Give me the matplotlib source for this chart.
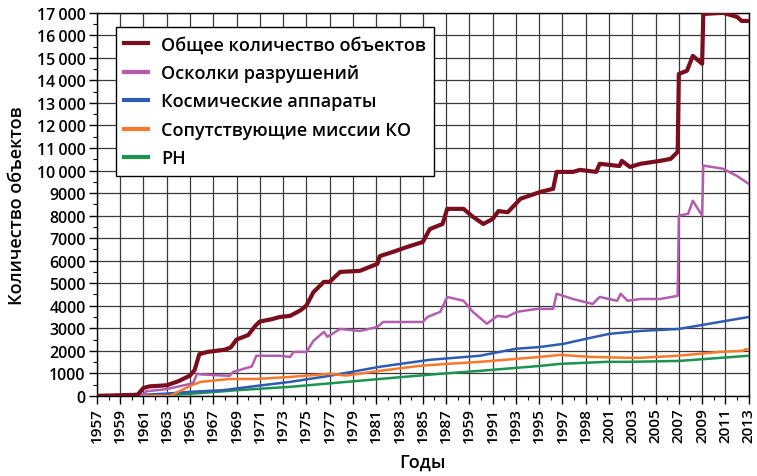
import matplotlib
matplotlib.use("Agg")
import matplotlib.pyplot as plt
from matplotlib.ticker import MultipleLocator

# ---------------- data ----------------
total_years = [1957, 1960.5, 1961, 1961.5, 1963, 1964, 1965, 1965.4, 1965.8, 1966.5, 1968, 1968.5,
               1969, 1970, 1970.6, 1971, 1972, 1972.7, 1973.6, 1974.5, 1975, 1975.6, 1976.5, 1977,
               1977.9, 1979.6, 1981.1, 1981.3, 1982.5, 1983.6, 1985, 1985.6, 1986.7, 1987.1, 1988.5,
               1989.3, 1990.2, 1991, 1991.5, 1992.3, 1993.4, 1995.1, 1996.2, 1996.5, 1997.9, 1998.5,
               1999.9, 2000.2, 2001.9, 2002.1, 2002.8, 2003.7, 2005.4, 2006.3, 2006.9, 2007.0, 2007.7,
               2008.2, 2009.0, 2009.1, 2010.8, 2012, 2012.4, 2013]
total_vals = [0, 50, 350, 420, 470, 650, 900, 1150, 1850, 1950, 2050, 2150,
              2500, 2700, 3100, 3300, 3400, 3500, 3550, 3800, 4010, 4600, 5060, 5060,
              5500, 5550, 5860, 6200, 6400, 6600, 6830, 7400, 7630, 8300, 8300,
              7950, 7630, 7850, 8200, 8150, 8750, 9050, 9190, 9940, 9940, 10030,
              9940, 10300, 10200, 10430, 10160, 10300, 10430, 10520, 10830, 14290, 14430,
              15090, 14740, 16950, 17000, 16820, 16640, 16640]

debris_years = [1957, 1961, 1961.2, 1963, 1965, 1965.3, 1965.6, 1966, 1968.4, 1968.7, 1969.6, 1970.3,
                1970.7, 1972.7, 1973.6, 1973.9, 1975, 1975.6, 1976.5, 1976.8, 1977.9, 1979.6, 1981.1,
                1981.6, 1985, 1985.4, 1986.5, 1987.1, 1988.5, 1989.3, 1990.5, 1991.4, 1992.2, 1993.1,
                1994.8, 1996.2, 1996.5, 1997.9, 1999.6, 2000.2, 2001.7, 2002, 2002.6, 2003.7, 2005.4,
                2006.9, 2007, 2007.8, 2008.2, 2009, 2009.1, 2010.8, 2012, 2013]
debris_vals = [0, 0, 200, 300, 530, 600, 980, 950, 890, 1060, 1200, 1300,
               1780, 1780, 1730, 1950, 1950, 2440, 2840, 2620, 2970, 2880, 3060,
               3280, 3280, 3500, 3730, 4390, 4220, 3730, 3200, 3550, 3500, 3730,
               3860, 3860, 4530, 4300, 4080, 4390, 4220, 4530, 4220, 4300, 4300,
               4440, 8000, 8080, 8660, 8000, 10220, 10080, 9760, 9410]

sc_years = [1957, 1959, 1961, 1963, 1965, 1967.8, 1970.7, 1973.6, 1977, 1981.3, 1985.6, 1989.9,
            1993, 1995.1, 1997.1, 1999, 2001, 2003.7, 2007, 2013]
sc_vals = [0, 20, 50, 100, 180, 250, 440, 620, 890, 1290, 1600, 1780,
           2090, 2170, 2310, 2530, 2750, 2880, 2970, 3500]

mission_years = [1957, 1963.3, 1965, 1965.9, 1968.4, 1970.7, 1973.6, 1977, 1978.4, 1981.3, 1984.7,
                 1987.1, 1989.9, 1995.1, 1996.8, 1999.4, 2002.6, 2003.7, 2006.9, 2010.5, 2012.5,
                 2012.8, 2013]
mission_vals = [0, 0, 440, 620, 750, 750, 840, 980, 900, 1110, 1330,
                1420, 1510, 1730, 1820, 1730, 1690, 1690, 1780, 1950, 2000,
                2080, 2040]

rb_years = [1957, 1959, 1963, 1965, 1969, 1973.6, 1981.3, 1986.5, 1989.9, 1995.1, 1996.8, 2000.8,
            2002.6, 2007, 2013]
rb_vals = [0, 10, 40, 90, 250, 400, 750, 980, 1110, 1330, 1420, 1510,
           1510, 1550, 1780]

series_labels = ["Общее количество объектов", "Осколки разрушений", "Космические аппараты",
                 "Сопутствующие миссии КО", "РН"]

x_tick_pos = list(range(1957, 2014, 2))
x_tick_labels = ["1957", "1959", "1961", "1963", "1965", "1967", "1969", "1971", "1973", "1975",
                 "1977", "1979", "1981", "1983", "1985", "1987", "1959", "1991", "1993", "1995",
                 "1997", "1998", "2001", "2003", "2005", "2007", "2009", "2011", "2013"]
y_tick_pos = list(range(0, 17001, 1000))
y_tick_labels = ["0", "1000", "2000", "3000", "4000", "5000", "6000", "7000", "8000", "9000",
                 "10\u2009000", "11\u2009000", "12\u2009000", "13\u2009000", "14\u2009000",
                 "15\u2009000", "16\u2009000", "17\u2009000"]

# ---------------- plot ----------------
plt.rcParams['font.family'] = ['Open Sans', 'DejaVu Sans']

fig = plt.figure(figsize=(7.57, 4.77), dpi=100)
ax = fig.add_axes([0.128, 0.168, 0.861, 0.803])

ax.plot(total_years, total_vals, color="#7A0E1E", lw=3.0, label=series_labels[0], zorder=6)
ax.plot(debris_years, debris_vals, color="#B45DAF", lw=1.8, label=series_labels[1], zorder=5)
ax.plot(sc_years, sc_vals, color="#2E5CB3", lw=1.8, label=series_labels[2], zorder=4)
ax.plot(mission_years, mission_vals, color="#F8792B", lw=1.8, label=series_labels[3], zorder=4)
ax.plot(rb_years, rb_vals, color="#1C9450", lw=1.8, label=series_labels[4], zorder=3)

ax.set_xlim(1957, 2013)
ax.set_ylim(0, 17000)
ax.set_xticks(x_tick_pos)
ax.set_xticklabels(x_tick_labels, rotation=90, fontsize=11, fontweight='semibold')
ax.set_yticks(y_tick_pos)
ax.set_yticklabels(y_tick_labels, fontsize=11.5, fontweight='semibold')
ax.xaxis.set_minor_locator(MultipleLocator(1))
ax.yaxis.set_minor_locator(MultipleLocator(500))
ax.tick_params(which='major', length=6, width=1, color='black', pad=2)
ax.tick_params(which='minor', length=3, width=0.8, color='black')

ax.grid(True, which='major', color='#3a3a3a', lw=0.9)
ax.set_axisbelow(True)
for s in ax.spines.values():
    s.set_color('black')
    s.set_linewidth(1.0)

ax.set_xlabel("Годы", fontsize=13, fontweight='semibold', labelpad=8)
ax.set_ylabel("Количество объектов", fontsize=13, fontweight='semibold', labelpad=8)

leg = ax.legend(loc='upper left', bbox_to_anchor=(0.029, 0.962), borderaxespad=0,
                fontsize=13, frameon=True, fancybox=False, framealpha=1, edgecolor='black',
                handlelength=1.35, handletextpad=0.7, borderpad=0.45, labelspacing=0.58)
leg.get_frame().set_linewidth(1.0)
for t in leg.get_texts():
    t.set_fontweight('semibold')
for h in leg.get_lines():
    h.set_linewidth(3.0)

fig.savefig("out.png", dpi=100)
